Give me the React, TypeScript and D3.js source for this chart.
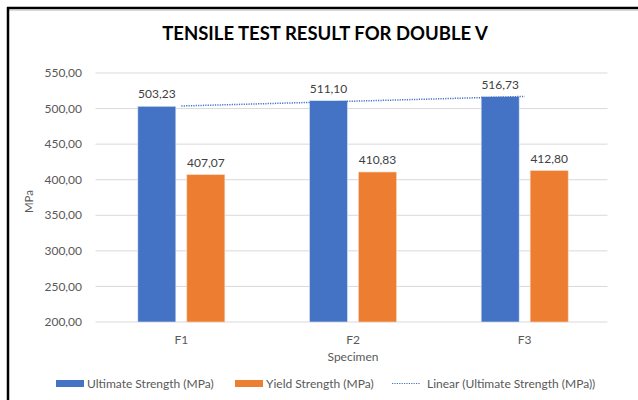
import React from "react";
import * as d3 from "d3";

const categories = ["F1", "F2", "F3"];
const ultimate = [503.23, 511.1, 516.73];
const yieldS = [407.07, 410.83, 412.8];
const yTicks = [200, 250, 300, 350, 400, 450, 500, 550];
const seriesNames = ["Ultimate Strength (MPa)", "Yield Strength (MPa)", "Linear (Ultimate Strength (MPa))"];
const title = "TENSILE TEST RESULT FOR DOUBLE V";

const W = 638, H = 400;
const FONT = "Lato, 'Open Sans', sans-serif";
const BLUE = "#4472C4";
const ORANGE = "#ED7D31";

const fmt = (v: number) => d3.format(".2f")(v).replace(".", ",");

export default function App() {
  const left = 95.5, right = 610.5, top = 73, bottom = 322;
  const x = d3.scaleBand<string>().domain(categories).range([left, right]);
  const y = d3.scaleLinear().domain([200, 550]).range([bottom, top]);
  const barW = 38;
  const inner = 11;

  // linear trendline (least squares) over the ultimate series
  const xs = categories.map((_, i) => i + 1);
  const mx = d3.mean(xs)!, my = d3.mean(ultimate)!;
  const slope = d3.sum(xs.map((v, i) => (v - mx) * (ultimate[i] - my))) / d3.sum(xs.map((v) => (v - mx) ** 2));
  const icpt = my - slope * mx;
  const trend = xs.map((v, i) => [x(categories[i])! + x.bandwidth() / 2, y(icpt + slope * v)] as [number, number]);
  const line = d3.line();

  return (
    <svg width={W} height={H} style={{ position: "absolute", left: 0, top: 0, background: "#fff" }} fontFamily={FONT}>
      <rect x={0} y={0} width={W} height={H} fill="#fff" />
      {/* frame */}
      <line x1={7} x2={W} y1={10.5} y2={10.5} stroke="#d9d9d9" strokeWidth={1} />
      <line x1={7} x2={W} y1={8} y2={8} stroke="#000" strokeWidth={2.5} />
      <line x1={8} x2={8} y1={7} y2={H} stroke="#000" strokeWidth={2.5} />

      <text x={325} y={40} textAnchor="middle" fontSize={18.5} fontWeight="bold" fill="#000">{title}</text>

      {yTicks.map((t) => (
        <g key={t}>
          <line x1={left} x2={right - 3} y1={y(t)} y2={y(t)} stroke="#d9d9d9" strokeWidth={1} />
          <text x={82} y={y(t)} dy="0.35em" textAnchor="end" fontSize={12} fill="#595959">{fmt(t)}</text>
        </g>
      ))}

      <text transform={`translate(33,${(top + bottom) / 2 + 4}) rotate(-90)`} textAnchor="middle" fontSize={11.5} fill="#595959">MPa</text>

      {categories.map((c, i) => {
        const cx = x(c)! + x.bandwidth() / 2;
        const bx1 = cx - inner / 2 - barW;
        const bx2 = cx + inner / 2;
        return (
          <g key={c}>
            <rect x={bx1} y={y(ultimate[i])} width={barW} height={bottom - y(ultimate[i])} fill={BLUE} stroke="#dfe6f3" strokeWidth={0.6} />
            <rect x={bx2} y={y(yieldS[i])} width={barW} height={bottom - y(yieldS[i])} fill={ORANGE} stroke="#f7d6c0" strokeWidth={0.6} />
            <text x={bx1 + barW / 2} y={y(ultimate[i]) - 8} textAnchor="middle" fontSize={12} fill="#404040">{fmt(ultimate[i])}</text>
            <text x={bx2 + barW / 2} y={y(yieldS[i]) - 8} textAnchor="middle" fontSize={12} fill="#404040">{fmt(yieldS[i])}</text>
            <text x={cx} y={bottom + 22} textAnchor="middle" fontSize={12} fill="#595959">{c}</text>
          </g>
        );
      })}

      <path d={line(trend)!} fill="none" stroke={BLUE} strokeWidth={1.5} strokeDasharray="1.2 1.2" />

      <text x={(left + right) / 2} y={361} textAnchor="middle" fontSize={12} fill="#595959">Specimen</text>

      {/* legend */}
      <g fontSize={12} fill="#595959">
        <rect x={56} y={380} width={28} height={7} fill={BLUE} />
        <text x={87} y={383.5} dy="0.35em">{seriesNames[0]}</text>
        <rect x={235} y={380} width={28} height={7} fill={ORANGE} />
        <text x={266} y={383.5} dy="0.35em">{seriesNames[1]}</text>
        <line x1={392} x2={420} y1={383.5} y2={383.5} stroke={BLUE} strokeWidth={1.2} strokeDasharray="1.2 1.2" />
        <text x={427} y={383.5} dy="0.35em">{seriesNames[2]}</text>
      </g>
    </svg>
  );
}
